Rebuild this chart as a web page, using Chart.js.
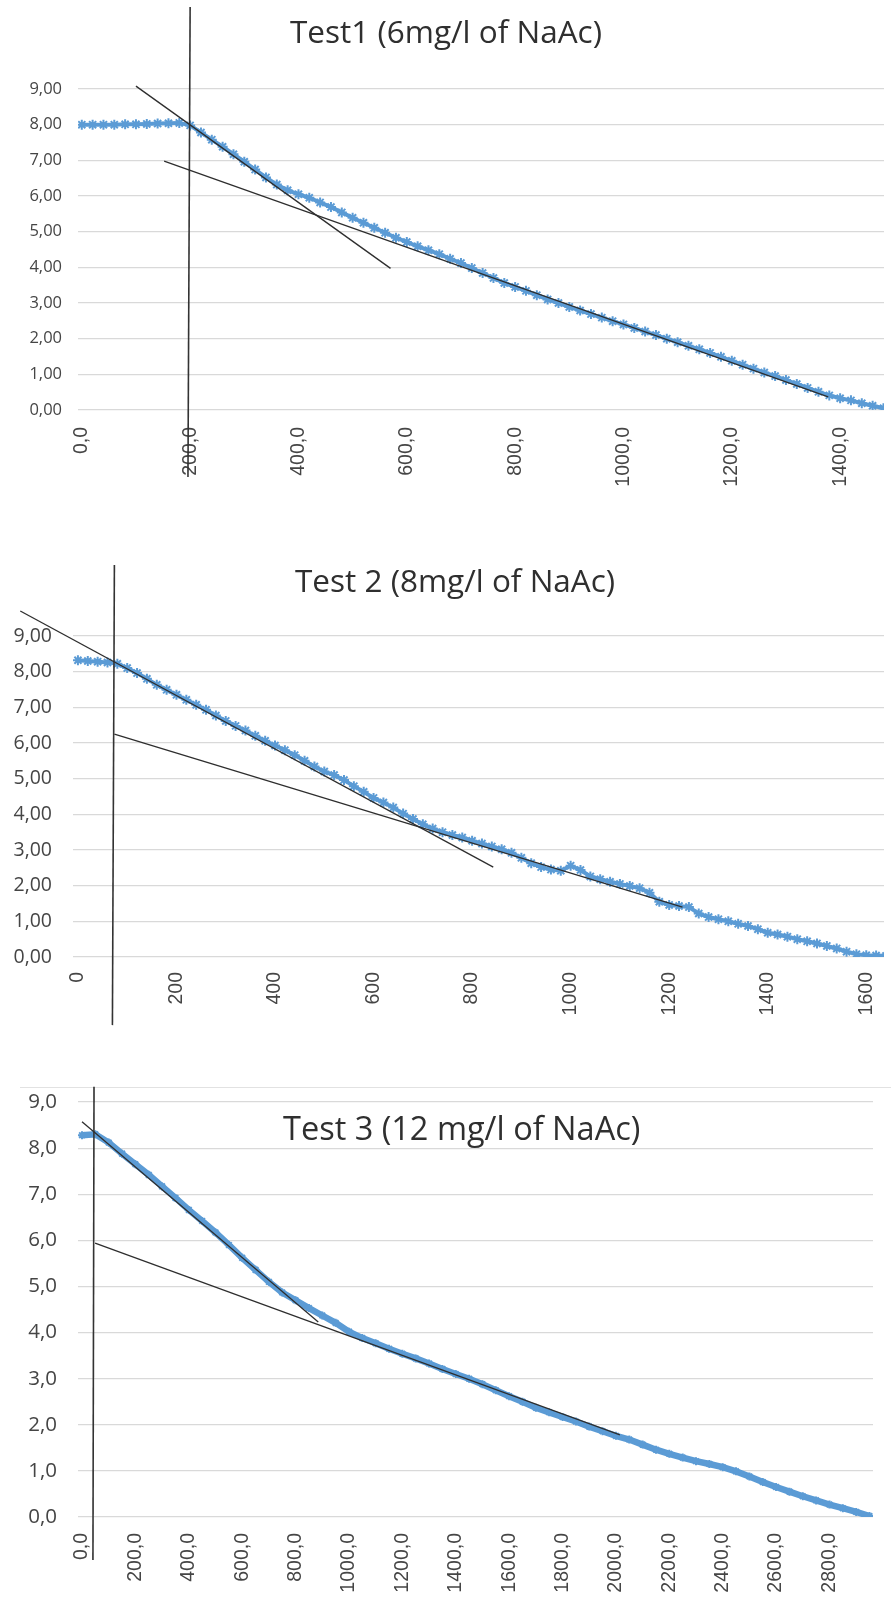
<!DOCTYPE html>
<html>
<head>
<meta charset="utf-8">
<script src="https://cdn.jsdelivr.net/npm/chart.js"></script>
<style>
  html, body { margin: 0; padding: 0; background: #fff; }
  body { position: relative; width: 891px; height: 1600px; overflow: hidden; }
  .panel { position: absolute; left: 0; width: 891px; }
  #panel1 { top: 0; height: 530px; }
  #panel2 { top: 530px; height: 550px; }
  #panel3 { top: 1080px; height: 520px; }
  .frame { position: absolute; left: 20px; right: 0; top: 1087px; border-top: 1px solid #e2e2e2; }
</style>
</head>
<body>
<div class="panel" id="panel1"><canvas id="test1"></canvas></div>
<div class="panel" id="panel2"><canvas id="test2"></canvas></div>
<div class="frame"></div>
<div class="panel" id="panel3"><canvas id="test3"></canvas></div>

<script>
// Test 1 - 6 mg/l NaAc
const time1 = [0, 20, 40, 60, 80, 100, 120, 140, 160, 180, 200, 220, 240, 260, 280, 300, 320, 340, 360, 380,
    400, 420, 440, 460, 480, 500, 520, 540, 560, 580, 600, 620, 640, 660, 680, 700, 720, 740, 760, 780,
    800, 820, 840, 860, 880, 900, 920, 940, 960, 980, 1000, 1020, 1040, 1060, 1080, 1100, 1120, 1140, 1160, 1180,
    1200, 1220, 1240, 1260, 1280, 1300, 1320, 1340, 1360, 1380, 1400, 1420, 1440, 1460, 1480];
const conc1 = [8.00, 8.00, 8.00, 8.00, 8.01, 8.01, 8.02, 8.03, 8.04, 8.05, 7.98, 7.78, 7.58, 7.38, 7.17, 6.96, 6.74, 6.52, 6.32, 6.16,
    6.05, 5.95, 5.82, 5.69, 5.54, 5.39, 5.25, 5.11, 4.97, 4.83, 4.71, 4.59, 4.48, 4.37, 4.24, 4.12, 3.98, 3.84, 3.70, 3.56,
    3.45, 3.34, 3.22, 3.10, 3.00, 2.89, 2.79, 2.69, 2.59, 2.49, 2.40, 2.30, 2.20, 2.10, 2.00, 1.90, 1.80, 1.70, 1.60, 1.49,
    1.38, 1.27, 1.16, 1.05, 0.95, 0.84, 0.73, 0.62, 0.51, 0.41, 0.33, 0.27, 0.19, 0.12, 0.05];
const fastFit1 = { x: [100, 570], y: [9.08, 3.97] };
const slowFit1 = { x: [152, 1378], y: [6.98, 0.37] };
const marker1 = { x: [200, 196], y: [11.3, -1.88] };
const xTicks1 = [0, 200, 400, 600, 800, 1000, 1200, 1400];

// Test 2 - 8 mg/l NaAc
const time2 = [0, 20, 40, 60, 80, 100, 120, 140, 160, 180, 200, 220, 240, 260, 280, 300, 320, 340, 360, 380,
    400, 420, 440, 460, 480, 500, 520, 540, 560, 580, 600, 620, 640, 660, 680, 700, 720, 740, 760, 780,
    800, 820, 840, 860, 880, 900, 920, 940, 960, 980, 1000, 1020, 1040, 1060, 1080, 1100, 1120, 1140, 1160, 1180,
    1200, 1220, 1240, 1260, 1280, 1300, 1320, 1340, 1360, 1380, 1400, 1420, 1440, 1460, 1480, 1500, 1520, 1540, 1560, 1580,
    1600, 1620, 1640];
const conc2 = [8.32, 8.30, 8.28, 8.26, 8.22, 8.10, 7.96, 7.80, 7.63, 7.49, 7.35, 7.21, 7.07, 6.93, 6.77, 6.62, 6.48, 6.35, 6.20, 6.06,
    5.93, 5.80, 5.66, 5.50, 5.34, 5.20, 5.10, 4.96, 4.79, 4.63, 4.46, 4.33, 4.19, 4.02, 3.87, 3.72, 3.60, 3.50, 3.42, 3.35,
    3.26, 3.18, 3.10, 3.02, 2.92, 2.78, 2.63, 2.52, 2.45, 2.42, 2.56, 2.44, 2.26, 2.18, 2.11, 2.05, 1.99, 1.93, 1.80, 1.55,
    1.46, 1.43, 1.40, 1.22, 1.12, 1.06, 1.00, 0.93, 0.87, 0.78, 0.68, 0.63, 0.57, 0.50, 0.44, 0.38, 0.31, 0.24, 0.15, 0.08,
    0.05, 0.04, 0.03];
const fastFit2 = { x: [-117, 843], y: [9.70, 2.52] };
const slowFit2 = { x: [74, 1227], y: [6.25, 1.40] };
const marker2 = { x: [74, 70], y: [10.99, -1.91] };
const xTicks2 = [0, 200, 400, 600, 800, 1000, 1200, 1400, 1600];

// Test 3 - 12 mg/l NaAc
const time3 = [0, 50, 100, 150, 200, 250, 300, 350, 400, 450, 500, 550, 600, 650, 700, 750, 800, 850, 900, 950,
    1000, 1050, 1100, 1150, 1200, 1250, 1300, 1350, 1400, 1450, 1500, 1550, 1600, 1650, 1700, 1750, 1800, 1850, 1900, 1950,
    2000, 2050, 2100, 2150, 2200, 2250, 2300, 2350, 2400, 2450, 2500, 2550, 2600, 2650, 2700, 2750, 2800, 2850, 2900, 2950];
const conc3 = [8.28, 8.30, 8.12, 7.88, 7.65, 7.42, 7.17, 6.92, 6.66, 6.42, 6.17, 5.90, 5.62, 5.36, 5.10, 4.87, 4.70, 4.53, 4.37, 4.21,
    4.02, 3.88, 3.77, 3.65, 3.54, 3.44, 3.33, 3.21, 3.10, 3.00, 2.88, 2.75, 2.62, 2.50, 2.37, 2.27, 2.17, 2.07, 1.96, 1.86,
    1.76, 1.68, 1.57, 1.46, 1.37, 1.29, 1.21, 1.15, 1.08, 0.99, 0.88, 0.76, 0.65, 0.55, 0.45, 0.36, 0.27, 0.19, 0.11, 0.02];
const fastFit3 = { x: [0, 885], y: [8.57, 4.23] };
const slowFit3 = { x: [49, 2015], y: [5.94, 1.78] };
const marker3 = { x: [45, 41], y: [9.33, -0.93] };
const xTicks3 = [0, 200, 400, 600, 800, 1000, 1200, 1400, 1600, 1800, 2000, 2200, 2400, 2600, 2800];

const yTicks = [0, 1, 2, 3, 4, 5, 6, 7, 8, 9];

const BLUE = '#5B9BD5';
const INK = '#2e2e2e';
const LABEL = '#454545';

function toPoints(xs, ys) {
    return xs.map((x, i) => ({ x: x, y: ys[i] }));
}

// Comma decimal labels, e.g. 8,00
function commaFixed(digits) {
    return value => digits === null ? String(value) : value.toFixed(digits).replace('.', ',');
}

// Title drawn straight onto the canvas so it can sit inside the plot area
const titleText = {
    id: 'titleText',
    afterDraw(chart, args, opts) {
        const ctx = chart.ctx;
        ctx.save();
        ctx.font = opts.size + 'px "Open Sans"';
        ctx.fillStyle = '#2f2f2f';
        ctx.textBaseline = 'alphabetic';
        ctx.textAlign = 'left';
        ctx.fillText(opts.text, opts.x, opts.y);
        ctx.restore();
    }
};

function drawTest(id, s) {
    return new Chart(document.getElementById(id), {
        type: 'line',
        data: {
            datasets: [
                {
                    data: toPoints(s.time, s.conc),
                    borderColor: BLUE,
                    backgroundColor: BLUE,
                    borderWidth: s.lineWidth,
                    pointStyle: 'star',
                    pointRadius: s.markerSize,
                    pointBorderWidth: 2,
                    pointBorderColor: BLUE,
                    order: 2
                },
                { data: toPoints(s.fast.x, s.fast.y), borderColor: INK, borderWidth: 1.3, pointRadius: 0, clip: false, order: 1 },
                { data: toPoints(s.slow.x, s.slow.y), borderColor: INK, borderWidth: 1.3, pointRadius: 0, clip: false, order: 1 },
                { data: toPoints(s.marker.x, s.marker.y), borderColor: '#333333', borderWidth: 1.6, pointRadius: 0, clip: false, order: 1 }
            ]
        },
        options: {
            responsive: true,
            maintainAspectRatio: false,
            animation: false,
            devicePixelRatio: 1,
            layout: { padding: { top: s.plotTop, right: s.plotRight, left: 0, bottom: 0 } },
            plugins: {
                legend: { display: false },
                tooltip: { enabled: false },
                titleText: s.title
            },
            scales: {
                x: {
                    type: 'linear',
                    min: s.xMin,
                    max: s.xMax,
                    grid: { display: false, drawTicks: false },
                    border: { display: false },
                    ticks: {
                        autoSkip: false,
                        minRotation: 90,
                        maxRotation: 90,
                        padding: s.xPad,
                        color: LABEL,
                        font: { family: '"Liberation Sans"', size: s.xFont },
                        callback: commaFixed(s.xDigits)
                    },
                    afterBuildTicks: scale => { scale.ticks = s.xTicks.map(v => ({ value: v })); },
                    afterFit: scale => { scale.height = s.xHeight; scale.paddingLeft = 0; scale.paddingRight = 0; }
                },
                y: {
                    type: 'linear',
                    min: 0,
                    max: 9,
                    grid: { color: '#d9d9d9', lineWidth: 1.2, drawTicks: false },
                    border: { display: false },
                    ticks: {
                        padding: s.yPad,
                        color: LABEL,
                        font: { family: '"Open Sans"', size: s.yFont },
                        callback: commaFixed(s.yDigits)
                    },
                    afterBuildTicks: scale => { scale.ticks = yTicks.map(v => ({ value: v })); },
                    afterFit: scale => { scale.width = s.yWidth; scale.paddingTop = 0; scale.paddingBottom = 0; }
                }
            }
        },
        plugins: [titleText]
    });
}

drawTest('test1', {
    time: time1, conc: conc1, fast: fastFit1, slow: slowFit1, marker: marker1,
    xTicks: xTicks1, xMin: -7, xMax: 1481, xDigits: 1, yDigits: 2,
    plotTop: 89, plotRight: 0, xHeight: 120, yWidth: 78,
    xPad: 17, yPad: 16, xFont: 19.5, yFont: 16.5,
    lineWidth: 4, markerSize: 5,
    title: { text: 'Test1 (6mg/l of NaAc)', x: 290, y: 43, size: 31.5 }
});

drawTest('test2', {
    time: time2, conc: conc2, fast: fastFit2, slow: slowFit2, marker: marker2,
    xTicks: xTicks2, xMin: -10, xMax: 1636, xDigits: null, yDigits: 2,
    plotTop: 106, plotRight: 0, xHeight: 123, yWidth: 73,
    xPad: 15, yPad: 21, xFont: 19.5, yFont: 19.5,
    lineWidth: 4, markerSize: 5,
    title: { text: 'Test 2 (8mg/l of NaAc)', x: 295, y: 62, size: 31.5 }
});

drawTest('test3', {
    time: time3, conc: conc3, fast: fastFit3, slow: slowFit3, marker: marker3,
    xTicks: xTicks3, xMin: -15, xMax: 2963, xDigits: 1, yDigits: 1,
    plotTop: 22, plotRight: 18, xHeight: 83, yWidth: 78,
    xPad: 16, yPad: 21, xFont: 19.5, yFont: 20.5,
    lineWidth: 6.5, markerSize: 4,
    title: { text: 'Test 3 (12 mg/l of NaAc)', x: 283, y: 60, size: 32.5 }
});
</script>
</body>
</html>
